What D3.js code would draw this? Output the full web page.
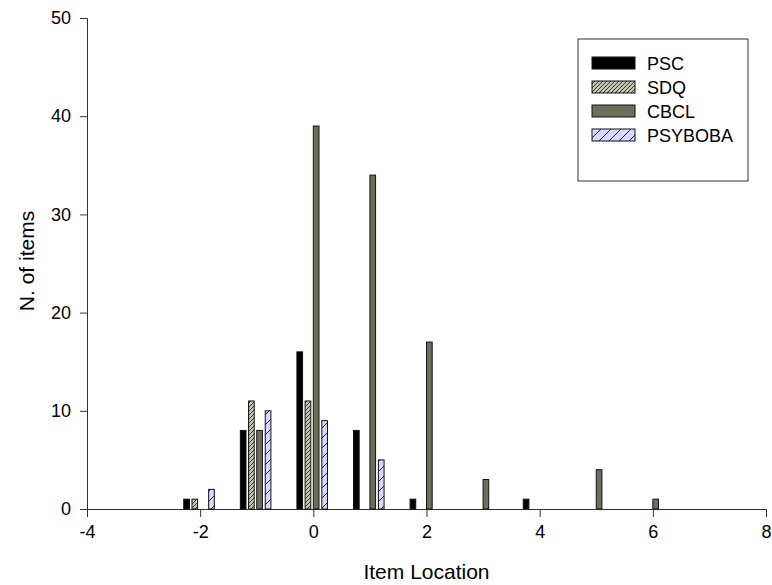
<!DOCTYPE html>
<html>
<head>
<meta charset="utf-8">
<script src="https://cdn.jsdelivr.net/npm/d3@7"></script>
<style>
  body { margin: 0; background: #fff; }
  svg { display: block; font-family: "Liberation Sans", Arial, sans-serif; }
  .axis path, .axis line { stroke: #333; }
  .axis text { font-size: 18px; fill: #000; font-family: "Liberation Sans", Arial, sans-serif; }
</style>
</head>
<body>
<div id="container"></div>
<script>
// Item locations (group centres) and counts per instrument
const locations = [-2, -1, 0, 1, 2, 3, 4, 5, 6];
const psc     = [1, 8, 16, 8, 1, 0, 1, 0, 0];
const sdq     = [1, 11, 11, 0, 0, 0, 0, 0, 0];
const cbcl    = [0, 8, 39, 34, 17, 3, 0, 4, 1];
const psyboba = [2, 10, 9, 5, 0, 0, 0, 0, 0];
const seriesNames = ['PSC', 'SDQ', 'CBCL', 'PSYBOBA'];
const xTicks = [-4, -2, 0, 2, 4, 6, 8];
const yTicks = [0, 10, 20, 30, 40, 50];

const W = 772, H = 585;
const margin = { top: 18, right: 6, bottom: 76, left: 87 };

const svg = d3.select('#container').append('svg')
  .attr('width', W).attr('height', H);

// Hatch patterns
const defs = svg.append('defs');
const pSdq = defs.append('pattern')
  .attr('id', 'hatchSdq').attr('patternUnits', 'userSpaceOnUse')
  .attr('width', 4).attr('height', 4);
pSdq.append('rect').attr('width', 4).attr('height', 4).attr('fill', '#c4c4b4');
pSdq.append('path').attr('d', 'M-1,1 l2,-2 M0,4 l4,-4 M3,5 l2,-2')
  .attr('stroke', '#3a3a30').attr('stroke-width', 1);

const pPsy = defs.append('pattern')
  .attr('id', 'hatchPsy').attr('patternUnits', 'userSpaceOnUse')
  .attr('width', 10).attr('height', 10);
pPsy.append('rect').attr('width', 10).attr('height', 10).attr('fill', '#d8d8ff');
pPsy.append('path').attr('d', 'M-1,1 l2,-2 M0,10 l10,-10 M9,11 l2,-2')
  .attr('stroke', '#222').attr('stroke-width', 1);

const fills = ['#000', 'url(#hatchSdq)', '#6e6e5a', 'url(#hatchPsy)'];
const offsets = [-0.24, -0.095, 0.05, 0.2];
const barW = 0.1;

const x = d3.scaleLinear().domain([-4, 8]).range([margin.left, W - margin.right]);
const y = d3.scaleLinear().domain([0, 50]).range([H - margin.bottom, margin.top]);

// Axes
svg.append('g')
  .attr('class', 'axis')
  .attr('transform', `translate(0,${H - margin.bottom})`)
  .call(d3.axisBottom(x).tickValues(xTicks).tickFormat(d => String(d))
    .tickSizeOuter(0).tickSize(8).tickPadding(8));

svg.append('g')
  .attr('class', 'axis')
  .attr('transform', `translate(${margin.left},0)`)
  .call(d3.axisLeft(y).tickValues(yTicks).tickFormat(d => String(d))
    .tickSizeOuter(0).tickSize(7).tickPadding(9));

// Bars
const allSeries = [psc, sdq, cbcl, psyboba];
allSeries.forEach((vals, si) => {
  const data = locations.map((loc, i) => ({ loc, v: vals[i] })).filter(d => d.v > 0);
  svg.append('g').selectAll('rect')
    .data(data)
    .enter()
    .append('rect')
    .attr('x', d => x(d.loc + offsets[si] - barW / 2))
    .attr('width', x(barW) - x(0))
    .attr('y', d => y(d.v))
    .attr('height', d => y(0) - y(d.v))
    .attr('fill', fills[si])
    .attr('stroke', '#111')
    .attr('stroke-width', 1);
});

// Axis titles
svg.append('text')
  .attr('x', (margin.left + W - margin.right) / 2)
  .attr('y', 579)
  .attr('text-anchor', 'middle')
  .attr('font-size', 21)
  .text('Item Location');

svg.append('text')
  .attr('transform', 'translate(34,261) rotate(-90)')
  .attr('text-anchor', 'middle')
  .attr('font-size', 21)
  .text('N. of items');

// Legend
const legend = svg.append('g');
legend.append('rect')
  .attr('x', 578).attr('y', 39).attr('width', 170).attr('height', 142)
  .attr('fill', '#fff').attr('stroke', '#333').attr('stroke-width', 1);
seriesNames.forEach((name, i) => {
  const cy = 63 + i * 24;
  legend.append('rect')
    .attr('x', 592).attr('y', cy - 6).attr('width', 43).attr('height', 12)
    .attr('fill', fills[i]).attr('stroke', '#111');
  legend.append('text')
    .attr('x', 647).attr('y', cy + 6.5)
    .attr('font-size', 18)
    .text(name);
});
</script>
</body>
</html>
